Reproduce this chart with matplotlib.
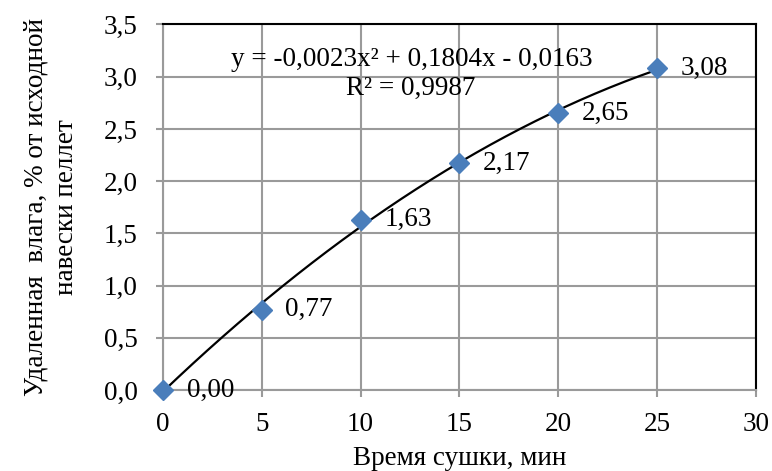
import matplotlib.pyplot as plt
import numpy as np
from matplotlib.ticker import FuncFormatter, MultipleLocator

# Данные
time_min = [0, 5, 10, 15, 20, 25]
moisture = [0.00, 0.77, 1.63, 2.17, 2.65, 3.08]
point_labels = ["0,00", "0,77", "1,63", "2,17", "2,65", "3,08"]

plt.rcParams['font.family'] = ['Liberation Serif', 'DejaVu Serif']
plt.rcParams['font.size'] = 19.5

fig = plt.figure(figsize=(7.72, 4.71), dpi=100)
ax = fig.add_axes([0.211, 0.172, 0.768, 0.776])

# Линия тренда (полином 2-й степени)
coef = np.polyfit(time_min, moisture, 2)
xs = np.linspace(0, 25, 200)
ax.plot(xs, np.polyval(coef, xs), color='black', lw=1.6, zorder=3)

ax.plot(time_min, moisture, linestyle='none', marker='D', markersize=10.5,
        color='#4A7EBB', zorder=4, clip_on=False)

for x, y, lab in zip(time_min, moisture, point_labels):
    ax.annotate(lab, (x, y), xytext=(17, 0), textcoords='offset points',
                ha='left', va='center', zorder=5)

ax.text(0.42, 0.905, "y = -0,0023x² + 0,1804x - 0,0163", transform=ax.transAxes,
        ha='center', va='center')
ax.text(0.418, 0.826, "R² = 0,9987", transform=ax.transAxes, ha='center', va='center')

ax.set_xlim(0, 30)
ax.set_ylim(0, 3.5)
ax.xaxis.set_major_locator(MultipleLocator(5))
ax.yaxis.set_major_locator(MultipleLocator(0.5))
ax.yaxis.set_major_formatter(FuncFormatter(lambda v, p: f"{v:.1f}".replace('.', ',')))

ax.grid(True, color='#9a9a9a', lw=1.5)
ax.set_axisbelow(True)
for side in ['left', 'bottom']:
    ax.spines[side].set_color('#9a9a9a')
    ax.spines[side].set_linewidth(1.5)
for side in ['top', 'right']:
    ax.spines[side].set_color('black')
    ax.spines[side].set_linewidth(1.5)
ax.tick_params(direction='out', length=5, width=1.5, color='#9a9a9a')
ax.tick_params(axis='x', pad=11)
ax.tick_params(axis='y', pad=13)

ax.set_xlabel("Время сушки, мин", labelpad=6)
ax.set_ylabel("Удаленная  влага, % от исходной\nнавески пеллет", labelpad=18,
              linespacing=1.3)

fig.savefig("out.png", dpi=100)
